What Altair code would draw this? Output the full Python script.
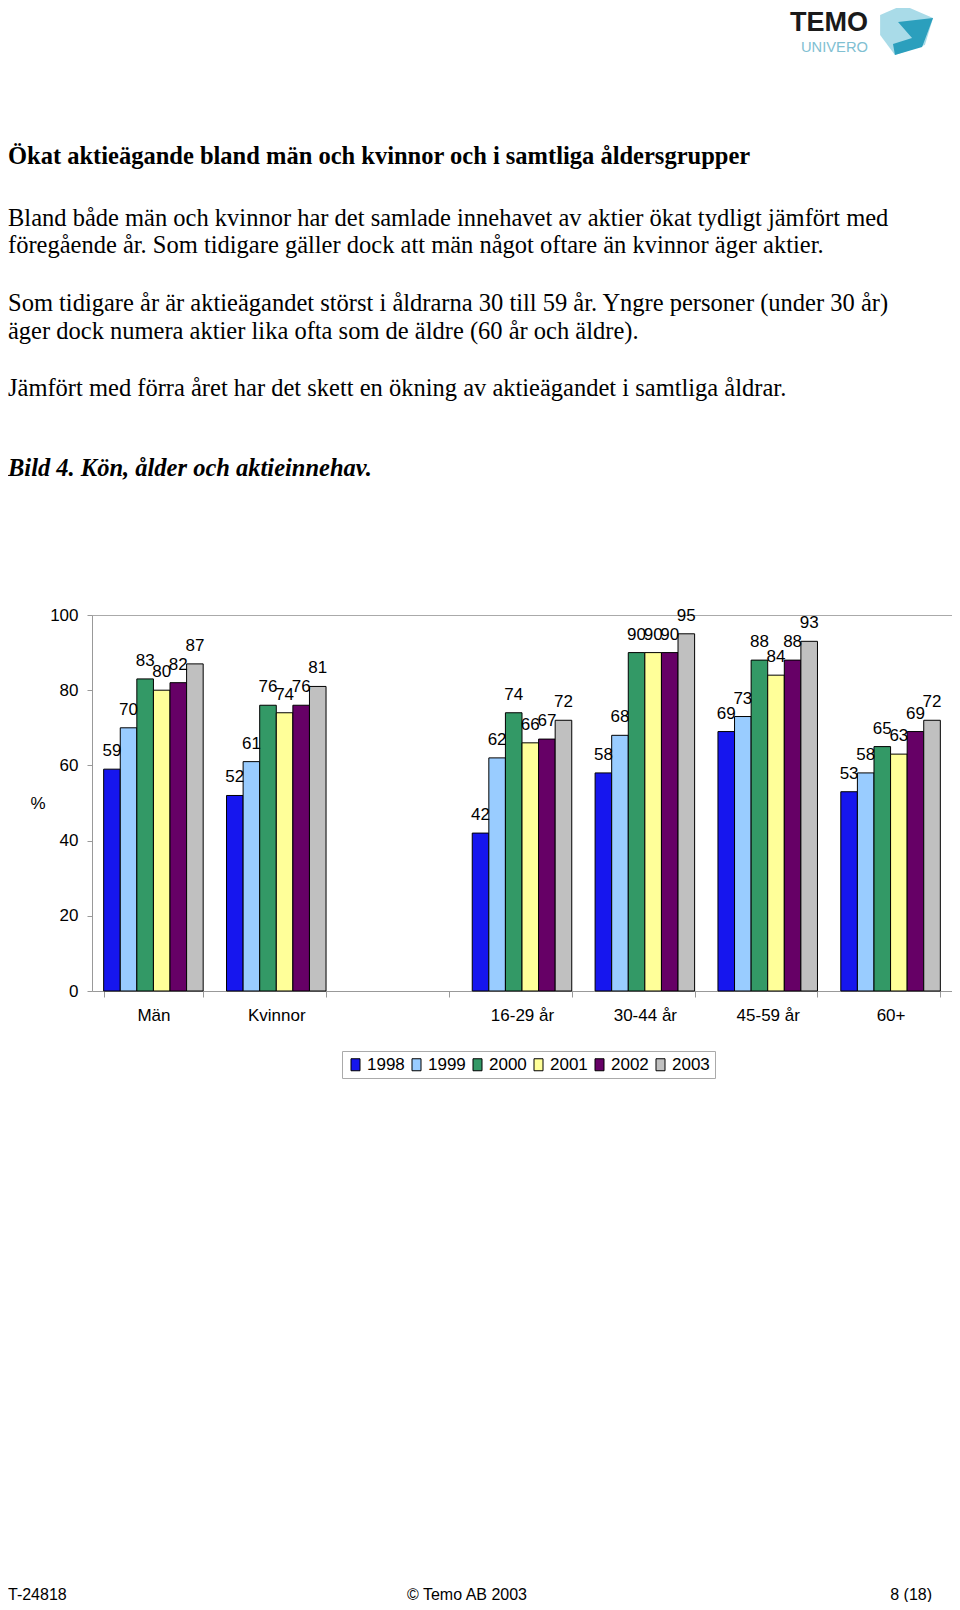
import altair as alt
import pandas as pd

# ---------------- data ----------------
categories = ["Män", "Kvinnor", " ", "16-29 år", "30-44 år", "45-59 år", "60+"]
years = ["1998", "1999", "2000", "2001", "2002", "2003"]
vals_man = [59, 70, 83, 80, 82, 87]
vals_kvinnor = [52, 61, 76, 74, 76, 81]
vals_16_29 = [42, 62, 74, 66, 67, 72]
vals_30_44 = [58, 68, 90, 90, 90, 95]
vals_45_59 = [69, 73, 88, 84, 88, 93]
vals_60 = [53, 58, 65, 63, 69, 72]
year_colors = ["#1616EE", "#99CCFF", "#339966", "#FFFF99", "#660066", "#C0C0C0"]
y_ticks = [0, 20, 40, 60, 80, 100]

title_line = "Ökat aktieägande bland män och kvinnor och i samtliga åldersgrupper"
para1 = ["Bland både män och kvinnor har det samlade innehavet av aktier ökat tydligt jämfört med",
         "föregående år. Som tidigare gäller dock att män något oftare än kvinnor äger aktier."]
para2 = ["Som tidigare år är aktieägandet störst i åldrarna 30 till 59 år. Yngre personer (under 30 år)",
         "äger dock numera aktier lika ofta som de äldre (60 år och äldre)."]
para3 = ["Jämfört med förra året har det skett en ökning av aktieägandet i samtliga åldrar."]
caption = "Bild 4. Kön, ålder och aktieinnehav."
footer_left = "T-24818"
footer_mid = "© Temo AB 2003"
footer_right = "8 (18)"
y_unit = "%"

groups = {
    "Män": vals_man, "Kvinnor": vals_kvinnor, "16-29 år": vals_16_29,
    "30-44 år": vals_30_44, "45-59 år": vals_45_59, "60+": vals_60,
}
rows = []
for g, vs in groups.items():
    for yr, v in zip(years, vs):
        rows.append({"group": g, "year": yr, "value": v})
df = pd.DataFrame(rows)

# ---------------- layout ----------------
OX, OY = 92, 615          # page position of plot origin
W, H = 860, 376
SANS = "Liberation Sans"
SERIF = "Liberation Serif"

x_enc = alt.X("group:N", title=None,
              scale=alt.Scale(domain=categories, paddingInner=0.19, paddingOuter=0.095),
              axis=alt.Axis(labelAngle=0, labelFont=SANS, labelFontSize=17, labelColor="black",
                            labelPadding=10, tickBand="extent", tickSize=6, tickColor="#999999",
                            domainColor="#999999", grid=False))
y_enc = alt.Y("value:Q", title=None,
              scale=alt.Scale(domain=[0, 100], nice=False),
              axis=alt.Axis(values=y_ticks, labelFont=SANS, labelFontSize=17, labelColor="black",
                            labelPadding=9, tickSize=5, tickColor="#999999", domainColor="#999999",
                            grid=True,
                            gridColor={"condition": {"test": "datum.value === 100", "value": "#aaaaaa"},
                                       "value": "transparent"}))
xo_enc = alt.XOffset("year:N", scale=alt.Scale(domain=years, paddingInner=0, paddingOuter=0))

legend = alt.Legend(title=None, orient="none", legendX=250, legendY=436, direction="horizontal",
                    symbolType="M-0.75,-1H0.75V1H-0.75Z", symbolSize=144, symbolStrokeColor="black",
                    symbolStrokeWidth=1, symbolOpacity=1, labelFont=SANS, labelFontSize=17,
                    labelColor="black", labelOffset=3, columnPadding=3, padding=5,
                    strokeColor="#aaaaaa")

bars = alt.Chart(df).mark_bar(stroke="black", strokeWidth=1, opacity=1).encode(
    x=x_enc, xOffset=xo_enc, y=y_enc,
    color=alt.Color("year:N", scale=alt.Scale(domain=years, range=year_colors), legend=legend),
)
labels = alt.Chart(df).mark_text(baseline="alphabetic", dy=-13, font=SANS, fontSize=17,
                                 color="black").encode(
    x=x_enc, xOffset=xo_enc, y=y_enc, text="value:Q")


def page_text(line, px, py, size, font, weight="normal", style="normal", align="left",
              color="black"):
    return alt.Chart(pd.DataFrame({"t": [line]})).mark_text(
        align=align, baseline="middle", font=font, fontSize=size, fontWeight=weight,
        fontStyle=style, color=color).encode(
        text="t:N", x=alt.value(px - OX), y=alt.value(py - OY))


texts = [
    page_text(title_line, 8, 157, 24.5, SERIF, weight="bold"),
    page_text(para1[0], 8, 218.7, 24.5, SERIF),
    page_text(para1[1], 8, 246.4, 24.5, SERIF),
    page_text(para2[0], 8, 303.9, 24.5, SERIF),
    page_text(para2[1], 8, 331.6, 24.5, SERIF),
    page_text(para3[0], 8, 389.1, 24.5, SERIF),
    page_text(caption, 8, 469.2, 24.5, SERIF, weight="bold", style="italic"),
    page_text(y_unit, 38, 804, 17, SANS, align="center"),
    page_text(footer_left, 8, 1595, 16, SANS),
    page_text(footer_mid, 467, 1595, 16, SANS, align="center"),
    page_text(footer_right, 932, 1595, 16, SANS, align="right"),
    page_text("TEMO", 790, 23, 27, SANS, weight="bold", color="#1a1a1a"),
    page_text("UNIVERO", 801, 48, 14.7, SANS, color="#80c0d2"),
]


def logo_part(path, color):
    return alt.Chart(pd.DataFrame({"k": [0]})).mark_point(
        shape=path, size=3136, filled=True, opacity=1, color=color, strokeWidth=0).encode(
        x=alt.value(907 - OX), y=alt.value(30 - OY))


logo = [
    logo_part("M-0.96,-0.54L-0.14,-0.89L0.93,-0.43L0.64,0.54L-0.43,0.89L-0.96,0.18Z", "#a9dbe8"),
    logo_part("M-0.32,-0.29L0.93,-0.43L0.54,0.61L-0.43,0.89L-0.5,0.5L0.18,0.29Z", "#2b9fbd"),
]

chart = alt.layer(bars, labels, *texts, *logo).properties(
    width=W, height=H,
    autosize=alt.AutoSizeParams(type="none"),
    padding={"left": OX - 8, "top": OY - 8, "right": 0, "bottom": 1594 - (OY - 8) - H},
    background="white",
).configure_view(strokeWidth=0).configure(font=SANS)

chart.save("out.html", embed_options={"renderer": "svg", "actions": False})
